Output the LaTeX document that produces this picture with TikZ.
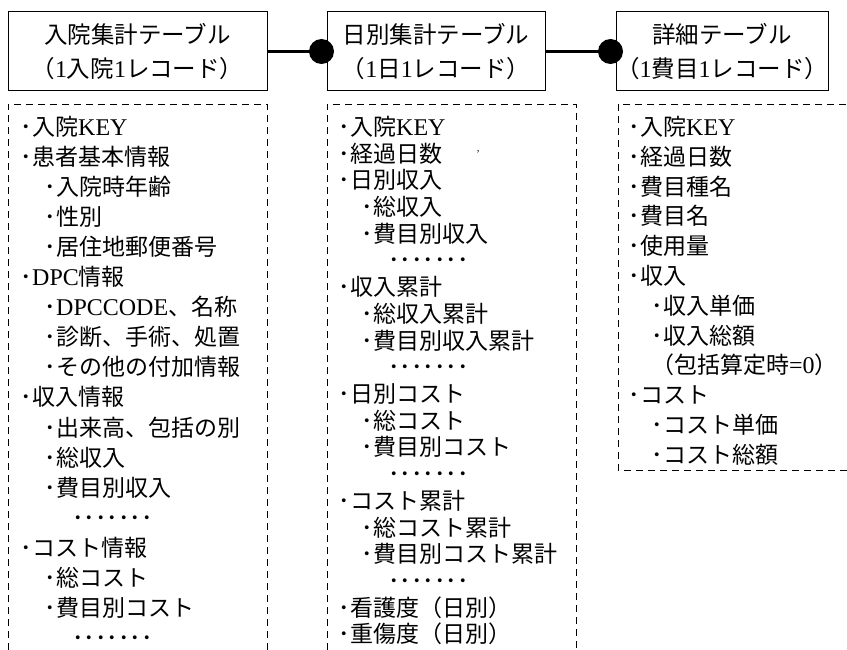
\documentclass[tikz,border=0pt]{standalone}
\usepackage{fontspec}
\setmainfont{Noto Sans CJK JP}
\newfontfamily\lat{Liberation Serif}
\usetikzlibrary{calc}
\tikzset{
  hdr/.style={draw, line width=1pt, inner sep=0pt, align=center,
    font=\fontsize{23.5}{34}\selectfont},
  item/.style={anchor=west, inner sep=0pt, text height=18pt, text depth=3pt,
    font=\fontsize{23}{26}\selectfont},
  joint/.style={circle, fill=black, inner sep=0pt, minimum size=25pt},
  link/.style={line width=3pt},
  dashbox/.style={line width=0.9pt, dash pattern=on 7pt off 5pt}
}
\newcommand{\dotrow}{･･･････}
\newcommand{\lt}[1]{{\lat\fontsize{24}{26}\selectfont #1}}
\begin{document}
\begin{tikzpicture}[x=1pt,y=-1pt]
\useasboundingbox (0,0) rectangle (847,650);
\fill[white] (0,0) rectangle (847,650);

% header boxes
\node[hdr, minimum width=259pt, minimum height=79pt] (h1) at (137.5,51.5) {入院集計テーブル\\（\lt{1}入院\lt{1}レコード）};
\node[hdr, minimum width=218pt, minimum height=79pt] (h2) at (436,51.5) {日別集計テーブル\\（\lt{1}日\lt{1}レコード）};
\node[hdr, minimum width=208pt, minimum height=79pt] (h3) at (722,51.5) {詳細テーブル\\（\lt{1}費目\lt{1}レコード）};

% joints
\node[joint] (k1) at ($(h2.west)+(-5,0)$) {};
\node[joint] (k2) at ($(h3.west)+(-5,0)$) {};
\draw[link] (h1.east) -- (k1.center);
\draw[link] (h2.east) -- (k2.center);

% dashed frames
\draw[dashbox] (8,650) -- (8,104) -- (267,104) -- (267,650);
\draw[dashbox] (327,650) -- (327,104) -- (576,104) -- (576,650);
\draw[dashbox] (847,470) -- (618,470) -- (618,104) -- (847,104);

% column 1
\foreach \lv/\t [count=\i] in {0/入院\lt{KEY}, 0/患者基本情報, 1/入院時年齢, 1/性別, 1/居住地郵便番号, 0/\lt{DPC}情報, 1/\lt{DPCCODE}、名称, 1/診断、手術、処置, 1/その他の付加情報, 0/収入情報, 1/出来高、包括の別, 1/総収入, 1/費目別収入, 2/x, 0/コスト情報, 1/総コスト, 1/費目別コスト, 2/x}{
  \pgfmathsetmacro\yy{128+30.05*(\i-1)}
  \ifnum\lv=2
    \node[item] (a\i) at (72,\yy) {\dotrow};
  \else
    \node[item] (a\i) at ({20.5+24*\lv},\yy) {･\t};
  \fi
}

% column 2
\foreach \lv/\t [count=\i] in {0/入院\lt{KEY}, 0/経過日数, 0/日別収入, 1/総収入, 1/費目別収入, 2/x, 0/収入累計, 1/総収入累計, 1/費目別収入累計, 2/x, 0/日別コスト, 1/総コスト, 1/費目別コスト, 2/x, 0/コスト累計, 1/総コスト累計, 1/費目別コスト累計, 2/x, 0/看護度（日別）, 0/重傷度（日別）}{
  \pgfmathsetmacro\yy{128+26.7*(\i-1)}
  \ifnum\lv=2
    \node[item] (b\i) at (388,\yy) {\dotrow};
  \else
    \node[item] (b\i) at ({338.5+23*\lv},\yy) {･\t};
  \fi
}
\node[inner sep=0pt, font=\fontsize{9}{9}\selectfont] (stray) at (478,152) {,};

% column 3
\foreach \lv/\t [count=\i] in {0/入院\lt{KEY}, 0/経過日数, 0/費目種名, 0/費目名, 0/使用量, 0/収入, 1/収入単価, 1/収入総額, 3/（包括算定時\lt{=0}）, 0/コスト, 1/コスト単価, 1/コスト総額}{
  \pgfmathsetmacro\yy{128+29.8*(\i-1)}
  \ifnum\lv=3
    \node[item] (c\i) at (651,\yy) {\t};
  \else
    \node[item] (c\i) at ({628.5+23*\lv},\yy) {･\t};
  \fi
}
\end{tikzpicture}
\end{document}
